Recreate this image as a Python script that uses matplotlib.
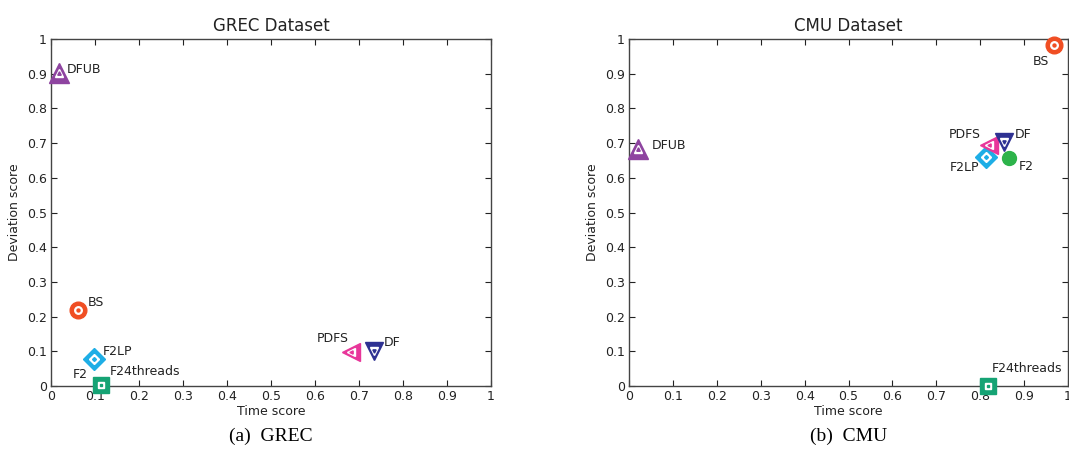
import matplotlib.pyplot as plt
import numpy as np

# method names and scores
methods = ['DFUB', 'BS', 'F2LP', 'F2', 'F24threads', 'PDFS', 'DF']
grec_time = [0.018, 0.061, 0.098, 0.114, 0.114, 0.682, 0.734]
grec_dev = [0.902, 0.219, 0.078, 0.004, 0.004, 0.098, 0.101]
cmu_time = [0.020, 0.968, 0.814, 0.866, 0.818, 0.820, 0.855]
cmu_dev = [0.683, 0.983, 0.660, 0.657, 0.000, 0.695, 0.703]

styles = {
    'DFUB': ('^', '#8e44a0'),
    'BS': ('o', '#f04e23'),
    'F2LP': ('D', '#1eaee6'),
    'F2': ('o', '#2db34a'),
    'F24threads': ('s', '#15a374'),
    'PDFS': ('<', '#e8369a'),
    'DF': ('v', '#2e3192'),
}
sizes = {'DFUB': 14, 'BS': 12, 'F2LP': 11, 'F2': 10, 'F24threads': 11, 'PDFS': 13, 'DF': 13}

# label offsets in pixels (dx, dy) and alignment
grec_lbl = {
    'DFUB': (8, 4, 'left'), 'BS': (10, 8, 'left'), 'F2LP': (9, 7, 'left'),
    'F2': (-13, 10, 'right'), 'F24threads': (9, 13, 'left'),
    'PDFS': (-2, 13, 'right'), 'DF': (10, 8, 'left'),
}
cmu_lbl = {
    'DFUB': (14, 3, 'left'), 'BS': (-5, -17, 'right'), 'F2LP': (-7, -11, 'right'),
    'F2': (10, -8, 'left'), 'F24threads': (4, 17, 'left'),
    'PDFS': (-8, 10, 'right'), 'DF': (10, 8, 'left'),
}

fig = plt.figure(figsize=(10.69, 4.54), dpi=100)
ax1 = fig.add_axes([51 / 1069, 68 / 454, 440 / 1069, 347 / 454])
ax2 = fig.add_axes([629 / 1069, 68 / 454, 439 / 1069, 347 / 454])

px = 72 / 100.0


def draw(ax, xs, ys, lbl, title):
    for name, x, y in zip(methods, xs, ys):
        mk, col = styles[name]
        ms = sizes[name]
        if name == 'F2':
            ax.plot(x, y, marker=mk, color=col, ms=ms, mec=col, ls='none', clip_on=False, zorder=3)
        else:
            ax.plot(x, y, marker=mk, color=col, ms=ms, mec=col, ls='none', clip_on=False, zorder=3)
            ax.plot(x, y, marker=mk, color='white', ms=ms * 0.45, mec='white', ls='none', clip_on=False, zorder=4)
            ax.plot(x, y, marker=mk, color=col, ms=ms * 0.18, mec=col, ls='none', clip_on=False, zorder=5)
        dx, dy, ha = lbl[name]
        ax.annotate(name, (x, y), xytext=(dx * px, dy * px), textcoords='offset points',
                    ha=ha, va='center', fontsize=9, color='#222222')
    ticks = np.arange(0, 1.01, 0.1)
    ax.set_xlim(0, 1)
    ax.set_ylim(0, 1)
    ax.set_xticks(ticks)
    ax.set_yticks(ticks)
    ax.set_xticklabels(['%g' % round(t, 1) for t in ticks])
    ax.set_yticklabels(['%g' % round(t, 1) for t in ticks])
    ax.tick_params(direction='in', top=True, right=True, labelsize=9, length=4, pad=3, colors='#222222')
    for s in ax.spines.values():
        s.set_color('#444444')
        s.set_linewidth(1.0)
    ax.set_xlabel('Time score', fontsize=9, labelpad=1, color='#222222')
    ax.set_ylabel('Deviation score', fontsize=9, labelpad=4, color='#222222')
    ax.set_title(title, fontsize=12, pad=6, color='#222222')


draw(ax1, grec_time, grec_dev, grec_lbl, 'GREC Dataset')
draw(ax2, cmu_time, cmu_dev, cmu_lbl, 'CMU Dataset')

fig.text(271 / 1069, 1 - 436 / 454, '(a)  GREC', ha='center', va='center',
         fontsize=14, family='Liberation Serif')
fig.text(849 / 1069, 1 - 436 / 454, '(b)  CMU', ha='center', va='center',
         fontsize=14, family='Liberation Serif')

fig.savefig('out.png', dpi=100)
